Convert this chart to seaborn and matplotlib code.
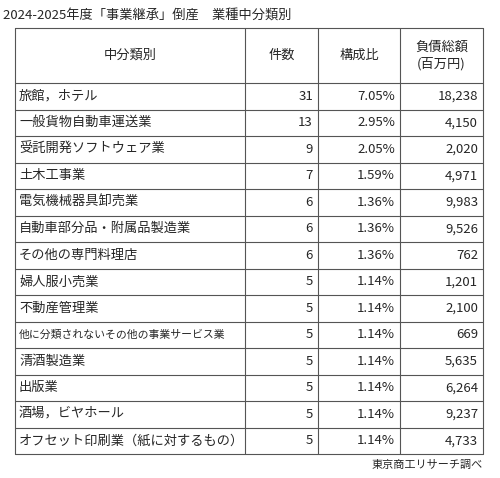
import matplotlib
matplotlib.use("Agg")
import matplotlib.pyplot as plt
import seaborn as sns

sns.set_theme(style="white")
plt.rcParams['font.family'] = ['Noto Sans CJK JP', 'DejaVu Sans']

title = "2024-2025年度「事業継承」倒産　業種中分類別"
headers = ["中分類別", "件数", "構成比", "負債総額\n(百万円)"]
categories = ["旅館，ホテル", "一般貨物自動車運送業", "受託開発ソフトウェア業", "土木工事業",
              "電気機械器具卸売業", "自動車部分品・附属品製造業", "その他の専門料理店", "婦人服小売業",
              "不動産管理業", "他に分類されないその他の事業サービス業", "清酒製造業", "出版業",
              "酒場，ビヤホール", "オフセット印刷業（紙に対するもの）"]
counts = [31, 13, 9, 7, 6, 6, 6, 5, 5, 5, 5, 5, 5, 5]
ratios = ["7.05%", "2.95%", "2.05%", "1.59%", "1.36%", "1.36%", "1.36%", "1.14%",
          "1.14%", "1.14%", "1.14%", "1.14%", "1.14%", "1.14%"]
debts = [18238, 4150, 2020, 4971, 9983, 9526, 762, 1201, 2100, 669, 5635, 6264, 9237, 4733]
source = "東京商工リサーチ調べ"

W, H = 500, 478
fig = plt.figure(figsize=(W/100, H/100), dpi=100)
ax = fig.add_axes([0, 0, 1, 1])
ax.set_xlim(0, W); ax.set_ylim(H, 0); ax.axis("off")

cols = [15, 245, 318, 400, 483]
top, head_bot = 28, 83
rh = (454 - head_bot) / len(categories)
fs = 9.5
ax.text(3, 15, title, fontsize=fs, va="center", ha="left")
for i, h in enumerate(headers):
    ax.text((cols[i]+cols[i+1])/2, (top+head_bot)/2, h, fontsize=fs, ha="center", va="center", linespacing=1.3)
lw = 0.8
for x in cols:
    ax.plot([x, x], [top, 454], color="#555555", lw=lw)
ys = [top, head_bot] + [head_bot + rh*(k+1) for k in range(len(categories))]
for y in ys:
    ax.plot([cols[0], cols[-1]], [y, y], color="#555555", lw=lw)
for k, name in enumerate(categories):
    yc = head_bot + rh*(k+0.5)
    small = name.startswith("他に分類")
    ax.text(cols[0]+4, yc, name, fontsize=(7.8 if small else fs), ha="left", va="center")
    ax.text(cols[2]-5, yc, f"{counts[k]}", fontsize=fs, ha="right", va="center")
    ax.text(cols[3]-5, yc, ratios[k], fontsize=fs, ha="right", va="center")
    ax.text(cols[4]-5, yc, f"{debts[k]:,}", fontsize=fs, ha="right", va="center")
ax.text(cols[-1], 465, source, fontsize=8, ha="right", va="center")
fig.savefig("out.png", dpi=100, facecolor="white")
